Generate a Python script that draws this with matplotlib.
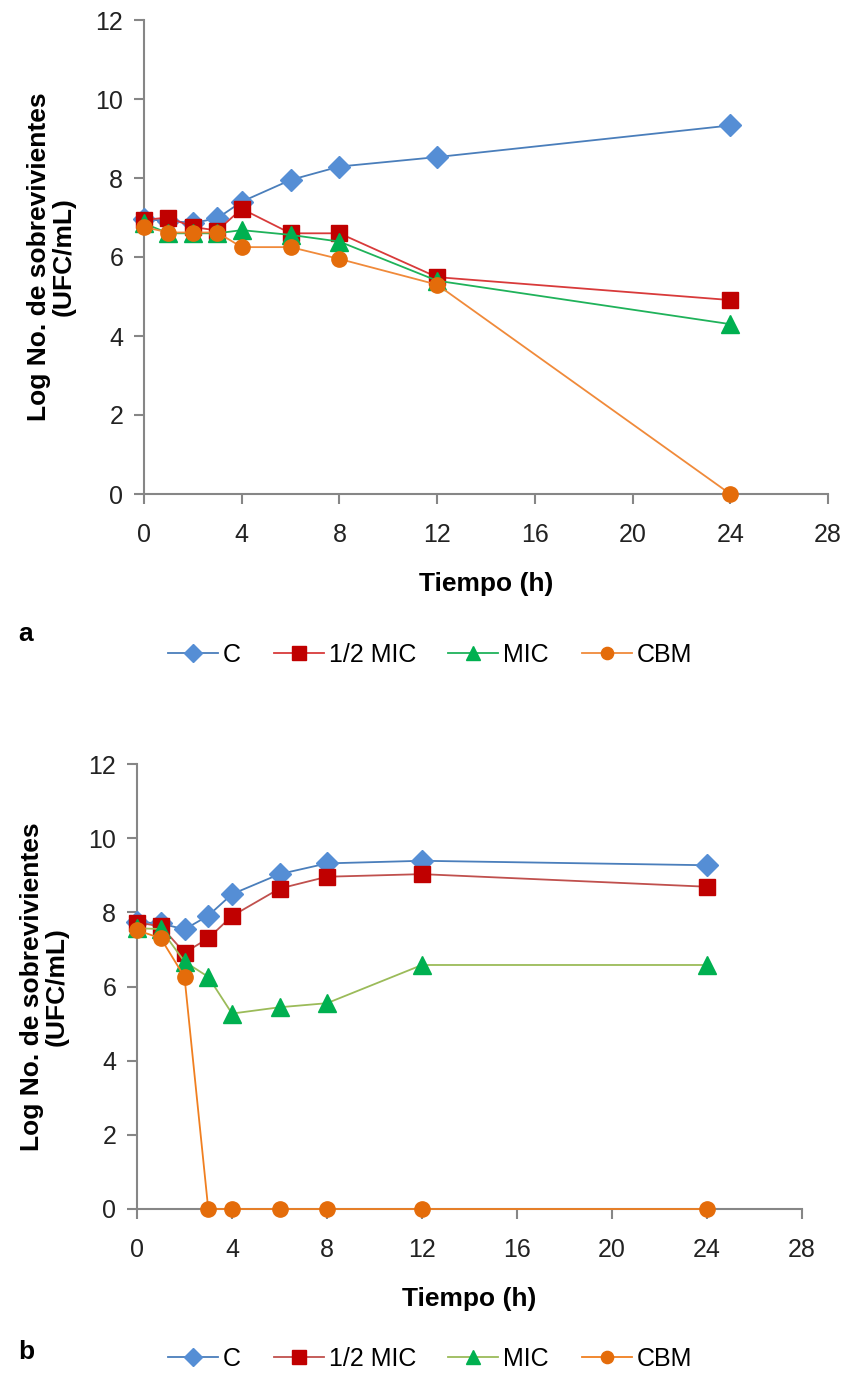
import matplotlib.pyplot as plt

plt.rcParams['font.family'] = ['Liberation Sans', 'DejaVu Sans']

# Tiempo (h)
horas = [0, 1, 2, 3, 4, 6, 8, 12, 24]
etiquetas = ['C', '1/2 MIC', 'MIC', 'CBM']

# panel a
a_c = [6.95, 6.92, 6.86, 6.98, 7.40, 7.95, 8.29, 8.53, 9.33]
a_half = [6.94, 7.00, 6.76, 6.67, 7.22, 6.60, 6.60, 5.49, 4.91]
a_mic = [6.85, 6.60, 6.60, 6.60, 6.68, 6.56, 6.39, 5.40, 4.30]
a_cbm = [6.76, 6.62, 6.62, 6.62, 6.25, 6.25, 5.95, 5.30, 0.0]

# panel b
b_c = [7.74, 7.70, 7.54, 7.91, 8.49, 9.03, 9.32, 9.39, 9.27]
b_half = [7.72, 7.63, 6.91, 7.30, 7.90, 8.64, 8.96, 9.03, 8.69]
b_mic = [7.57, 7.55, 6.67, 6.26, 5.27, 5.44, 5.55, 6.58, 6.58]
b_cbm = [7.52, 7.30, 6.26, 0.0, 0.0, 0.0, 0.0, 0.0, 0.0]

marcas = ['D', 's', '^', 'o']
c_marca = ['#558ED5', '#C00000', '#00B050', '#E46C0A']
c_linea_a = ['#4A7EBB', '#D83A3A', '#1FB25A', '#F08A3A']
c_linea_b = ['#4A7EBB', '#C0504D', '#9BBB59', '#F07F20']
tam = [11, 12, 12.5, 11]
gris = '#868686'


def panel(ax, series, c_linea, letra, ley_y, letra_y):
    for i, y in enumerate(series):
        ax.plot(horas, y, color=c_linea[i], lw=1.3, marker=marcas[i],
                ms=tam[i], mfc=c_marca[i], mec=c_marca[i], label=etiquetas[i],
                clip_on=False, zorder=3 + i * 0.1)
    ax.set_xlim(0, 28)
    ax.set_ylim(0, 12)
    ax.set_xticks(range(0, 29, 4))
    ax.set_yticks(range(0, 13, 2))
    for s in ['top', 'right']:
        ax.spines[s].set_visible(False)
    for s in ['left', 'bottom']:
        ax.spines[s].set_color(gris)
        ax.spines[s].set_linewidth(1.5)
    ax.tick_params(direction='out', length=7, width=1.5, color=gris,
                   labelsize=18, labelcolor='#222222')
    ax.tick_params(axis='x', pad=14)
    ax.tick_params(axis='y', pad=8)
    ax.set_xlabel('Tiempo (h)', fontsize=19, fontweight='bold', labelpad=18)
    ax.set_ylabel('Log No. de sobrevivientes\n(UFC/mL)', fontsize=19,
                  fontweight='bold', labelpad=14, linespacing=1.05)
    fig.text(18 / 847, letra_y, letra, fontsize=19, fontweight='bold',
             va='center', ha='left')
    fig.legend(*ax.get_legend_handles_labels(), loc='center',
               bbox_to_anchor=(430 / 847, ley_y), ncol=4, frameon=False,
               fontsize=18, handlelength=2.0, columnspacing=1.3,
               handletextpad=0.2, markerscale=0.8)


fig = plt.figure(figsize=(8.47, 13.75), dpi=100)
ax1 = fig.add_axes([144 / 847, 1 - 494 / 1375, (828 - 144) / 847, (494 - 20) / 1375])
ax2 = fig.add_axes([137 / 847, 1 - 1209 / 1375, (802 - 137) / 847, (1209 - 764) / 1375])

panel(ax1, [a_c, a_half, a_mic, a_cbm], c_linea_a, 'a',
      1 - 655 / 1375, 1 - 634 / 1375)
panel(ax2, [b_c, b_half, b_mic, b_cbm], c_linea_b, 'b',
      1 - 1359 / 1375, 1 - 1352 / 1375)

fig.savefig('out.png', dpi=100)
